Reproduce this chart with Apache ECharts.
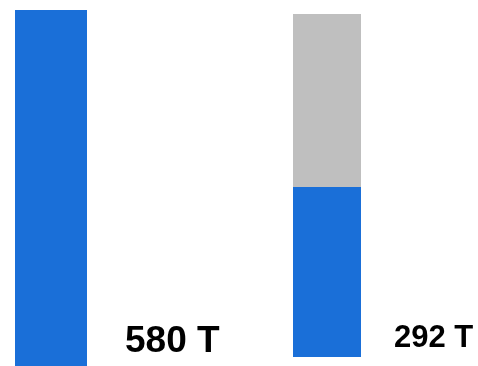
<!DOCTYPE html>
<html><head><meta charset="utf-8">
<script src="https://cdn.jsdelivr.net/npm/echarts@6/dist/echarts.min.js"></script>
<style>html,body{margin:0;padding:0;background:#fff}#c{width:478px;height:366px}</style>
</head><body><div id="c"></div>
<script>
const categories = ['A'];
const leftValues = [580];
const rightBlue = [292];
const rightGray = [297];
const unit = ' T';
const blue = '#1A6FD8';
const gray = '#BFBFBF';
const chart = echarts.init(document.getElementById('c'));
const font = {fontFamily:'Liberation Sans', fontWeight:'bold', color:'#000'};
chart.setOption({
  animation:false,
  grid:[
    {left:15, width:72, top:10, bottom:0},
    {left:293, width:68, top:14, bottom:9}
  ],
  xAxis:[
    {type:'category', gridIndex:0, data:categories, show:false},
    {type:'category', gridIndex:1, data:categories, show:false}
  ],
  yAxis:[
    {type:'value', gridIndex:0, min:0, max:leftValues[0], show:false},
    {type:'value', gridIndex:1, min:0, max:rightBlue[0]+rightGray[0], show:false}
  ],
  series:[
    {type:'bar', xAxisIndex:0, yAxisIndex:0, data:leftValues, barWidth:72,
     itemStyle:{color:blue},
     label:{show:true, position:[110,332], align:'left', verticalAlign:'middle',
       fontSize:37, ...font, formatter:p=>p.value+unit}},
    {type:'bar', xAxisIndex:1, yAxisIndex:1, stack:'r', data:rightBlue, barWidth:68,
     itemStyle:{color:blue},
     label:{show:true, position:[101,151], align:'left', verticalAlign:'middle',
       fontSize:31, ...font, formatter:p=>p.value+unit}},
    {type:'bar', xAxisIndex:1, yAxisIndex:1, stack:'r', data:rightGray, barWidth:68,
     itemStyle:{color:gray}}
  ]
});
</script></body></html>
